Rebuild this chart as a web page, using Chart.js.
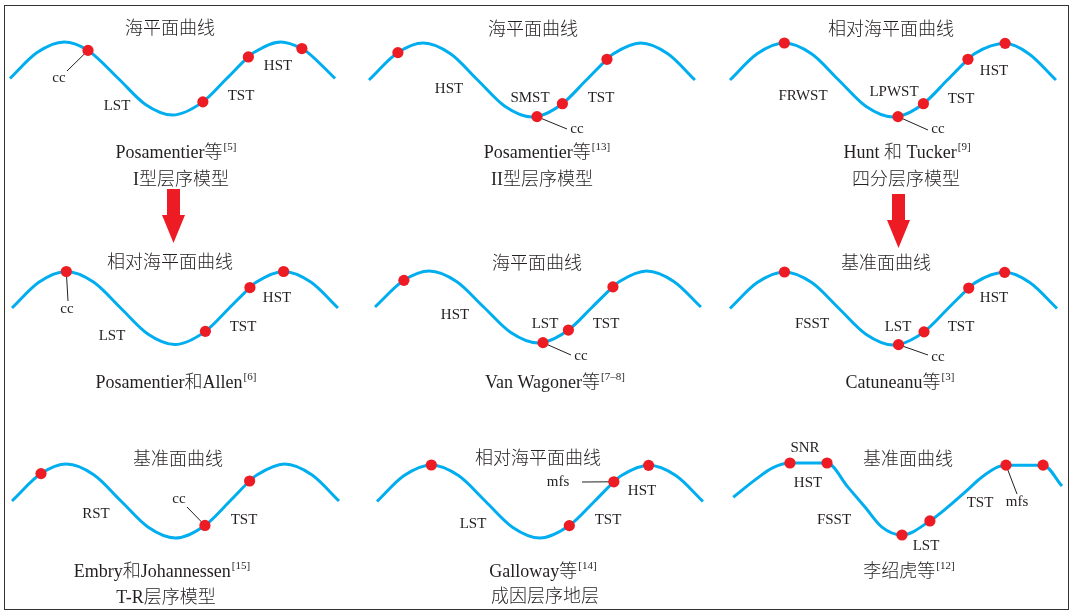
<!DOCTYPE html>
<html>
<head>
<meta charset="utf-8">
<script src="https://cdn.jsdelivr.net/npm/chart.js@4.4.1/dist/chart.umd.min.js"></script>
<style>
  body { margin: 0; background: #fff; }
  #wrap { position: relative; width: 1075px; height: 611px; overflow: hidden; }
  #frame { position: absolute; left: 4px; top: 5px; width: 1065px; height: 605px;
           border: 1.5px solid #333; box-sizing: border-box; }
  canvas { position: absolute; left: 0; top: 0; }
</style>
</head>
<body>
<div id="wrap"><div id="frame"></div></div>
<script>
// sea-level wave (x in cycles, y = relative level, peak 1 / trough -1)
const waveCycle = [0, 0.125, 0.25, 0.375, 0.5, 0.625, 0.75, 0.875, 1, 1.125, 1.25, 1.375, 1.5];
const waveLevel = [0, 0.71, 1, 0.71, 0, -0.71, -1, -0.71, 0, 0.71, 1, 0.71, 0];

// panel 9 (李绍虎等) has its own curve with two still-stands
const p9Cycle = [0.015, 0.115, 0.193, 0.541, 0.619, 0.697, 1.0, 1.078, 1.156, 1.229, 1.523];
const p9Level = [0.05, 0.53, 0.86, 0.33, -0.22, -0.78, -0.22, 0.19, 0.61, 0.89, 0.36];

// red dots (sequence boundaries / surfaces) on each curve
const dotCycle = [
  [0.36, 0.89, 1.10, 1.347],
  [0.133, 0.773, 0.89, 1.095],
  [0.25, 0.773, 0.89, 1.095, 1.266],
  [0.25, 0.89, 1.095, 1.25],
  [0.133, 0.773, 0.89, 1.095],
  [0.25, 0.773, 0.89, 1.095, 1.26],
  [0.133, 0.885, 1.09],
  [0.25, 0.885, 1.09, 1.25],
  [0.275, 0.445, 0.789, 0.917, 1.266, 1.436]
];
const dotLevel = [
  [0.77, -0.64, 0.59, 0.82],
  [0.74, -0.99, -0.64, 0.56],
  [1, -0.99, -0.64, 0.56, 0.99],
  [1, -0.64, 0.56, 1],
  [0.74, -0.99, -0.64, 0.56],
  [1, -0.99, -0.64, 0.56, 0.99],
  [0.74, -0.66, 0.54],
  [1, -0.66, 0.54, 0.99],
  [1, 1, -1, -0.61, 0.94, 0.94]
];

const titles = ['海平面曲线', '海平面曲线', '相对海平面曲线', '相对海平面曲线', '海平面曲线',
                '基准面曲线', '基准面曲线', '相对海平面曲线', '基准面曲线'];
const authors = ['Posamentier等', 'Posamentier等', 'Hunt 和 Tucker', 'Posamentier和Allen', 'Van Wagoner等',
                 'Catuneanu等', 'Embry和Johannessen', 'Galloway等', '李绍虎等'];
const refs = ['[5]', '[13]', '[9]', '[6]', '[7–8]', '[3]', '[15]', '[14]', '[12]'];
const models = ['I型层序模型', 'II型层序模型', '四分层序模型', '', '', '', 'T-R层序模型', '成因层序地层', ''];

const W = 1075, H = 611;
const ink = '#231f20';
const serif = '"Liberation Serif", "Times New Roman", "Noto Sans CJK SC", serif';

// layout: where each panel's curve sits (start px, px per cycle, mid-level px, px per level)
const layout = [
  { map: [10, 216.7, 78.5, 36.5], title: [170, 29], author: [176, 153], model: [181, 180],
    arrow: [173.5, 189, 215, 243],
    labels: [['cc', 59, 78], ['LST', 117, 106], ['TST', 241, 96], ['HST', 278, 66]],
    leaders: [[0, 67, 71]] },
  { map: [369, 217.3, 80, 37], title: [533, 30], author: [547, 153], model: [542, 180],
    labels: [['HST', 449, 89], ['SMST', 530, 98], ['TST', 601, 98], ['cc', 577, 129]],
    leaders: [[1, 567, 129]] },
  { map: [730, 217.3, 80, 37], title: [891, 30], author: [907, 153], model: [906, 180],
    arrow: [898.5, 194, 220, 248],
    labels: [['FRWST', 803, 96], ['LPWST', 894, 92], ['TST', 961, 99], ['HST', 994, 71], ['cc', 938, 129]],
    leaders: [[1, 928, 130]] },
  { map: [12, 217.3, 308, 36.5], title: [170, 263], author: [176, 383],
    labels: [['cc', 67, 309], ['LST', 112, 336], ['TST', 243, 327], ['HST', 277, 298]],
    leaders: [[0, 68, 301]] },
  { map: [375, 217.3, 307, 36], title: [537, 264], author: [555, 383],
    labels: [['HST', 455, 315], ['LST', 545, 324], ['TST', 606, 324], ['cc', 581, 356]],
    leaders: [[1, 571, 355]] },
  { map: [730, 218, 308.5, 36.5], title: [886, 264], author: [900, 383],
    labels: [['FSST', 812, 324], ['LST', 898, 327], ['TST', 961, 327], ['HST', 994, 298], ['cc', 938, 357]],
    leaders: [[1, 928, 355]] },
  { map: [12, 218, 501, 37], title: [178, 460], author: [162, 572], model: [166, 598],
    labels: [['RST', 96, 514], ['cc', 179, 499], ['TST', 244, 520]],
    leaders: [[1, 187, 507]] },
  { map: [377, 217.3, 501.5, 36.5], title: [538, 459], author: [543, 572], model: [545, 597],
    labels: [['mfs', 558, 482], ['LST', 473, 524], ['TST', 608, 520], ['HST', 642, 491]],
    leaders: [[2, 582, 482]] },
  { map: [730, 218, 499, 36], title: [908, 460], author: [909, 572],
    labels: [['SNR', 805, 448], ['HST', 808, 483], ['FSST', 834, 520], ['LST', 926, 546],
             ['TST', 980, 503], ['mfs', 1017, 502]],
    leaders: [[4, 1017, 494]] }
];

function buildCurve(cx, cy, dx, dy) {
  const pts = cx.map((x, i) => ({ x: x, y: cy[i], dot: false }))
    .filter(p => !dx.some(d => Math.abs(d - p.x) < 0.02));
  dx.forEach((x, i) => pts.push({ x: x, y: dy[i], dot: true }));
  return pts.sort((a, b) => a.x - b.x);
}

function makeDecor(i) {
  const L = layout[i];
  return {
    id: 'decor' + i,
    beforeDatasetsDraw(chart) {
      const { ctx, scales: { x, y } } = chart;
      ctx.save();
      ctx.strokeStyle = ink;
      ctx.lineWidth = 1;
      L.leaders.forEach(l => {
        const px = x.getPixelForValue(dotCycle[i][l[0]]);
        const py = y.getPixelForValue(dotLevel[i][l[0]]);
        ctx.beginPath();
        ctx.moveTo(px, py);
        ctx.lineTo(l[1], l[2]);
        ctx.stroke();
      });
      ctx.restore();
    },
    afterDraw(chart) {
      const ctx = chart.ctx;
      ctx.save();
      ctx.fillStyle = ink;
      ctx.textAlign = 'center';
      ctx.textBaseline = 'middle';

      ctx.font = '15px ' + serif;
      L.labels.forEach(t => ctx.fillText(t[0], t[1], t[2]));

      ctx.font = '300 18px ' + serif;
      ctx.fillText(titles[i], L.title[0], L.title[1]);
      if (models[i]) ctx.fillText(models[i], L.model[0], L.model[1]);

      // author line with bracketed reference raised
      const w1 = ctx.measureText(authors[i]).width;
      ctx.font = '11px ' + serif;
      const w2 = ctx.measureText(refs[i]).width;
      const left = L.author[0] - (w1 + 1 + w2) / 2;
      ctx.textAlign = 'left';
      ctx.fillText(refs[i], left + w1 + 1, L.author[1] - 6);
      ctx.font = '300 18px ' + serif;
      ctx.fillText(authors[i], left, L.author[1]);

      if (L.arrow) {
        const [cx, top, headTop, tip] = L.arrow;
        ctx.fillStyle = '#ed1c24';
        ctx.beginPath();
        ctx.moveTo(cx - 6.5, top);
        ctx.lineTo(cx + 6.5, top);
        ctx.lineTo(cx + 6.5, headTop);
        ctx.lineTo(cx + 11.5, headTop);
        ctx.lineTo(cx, tip);
        ctx.lineTo(cx - 11.5, headTop);
        ctx.lineTo(cx - 6.5, headTop);
        ctx.closePath();
        ctx.fill();
      }
      ctx.restore();
    }
  };
}

const wrap = document.getElementById('wrap');
layout.forEach((L, i) => {
  const cv = document.createElement('canvas');
  cv.width = W;
  cv.height = H;
  wrap.appendChild(cv);
  const [x0, k, ymid, a] = L.map;
  const curve = i === 8
    ? buildCurve(p9Cycle, p9Level, dotCycle[i], dotLevel[i])
    : buildCurve(waveCycle, waveLevel, dotCycle[i], dotLevel[i]);
  new Chart(cv.getContext('2d'), {
    type: 'line',
    data: {
      datasets: [{
        data: curve,
        borderColor: '#00aeef',
        borderWidth: 3,
        cubicInterpolationMode: 'monotone',
        pointRadius: c => (c.raw && c.raw.dot ? 5.6 : 0),
        pointHoverRadius: 0,
        pointBackgroundColor: '#ed1c24',
        pointBorderWidth: 0,
        clip: false
      }]
    },
    options: {
      responsive: false,
      animation: false,
      events: [],
      layout: { padding: 0 },
      plugins: { legend: { display: false }, tooltip: { enabled: false } },
      scales: {
        x: { type: 'linear', display: false, min: -x0 / k, max: (W - x0) / k },
        y: { type: 'linear', display: false, min: (ymid - H) / a, max: ymid / a }
      }
    },
    plugins: [makeDecor(i)]
  });
});
</script>
</body>
</html>
